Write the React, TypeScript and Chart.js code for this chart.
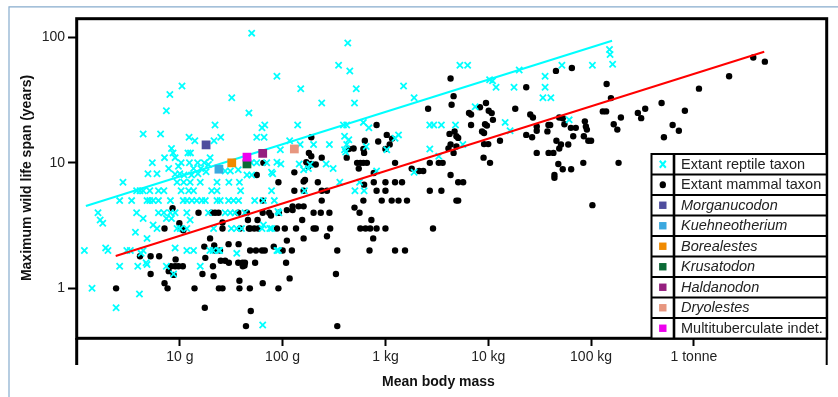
import React, { useEffect, useRef } from 'react';
import { Chart, registerables } from 'chart.js';

Chart.register(...registerables);

// ---- axis ticks ----
const xTickValues = [10, 100, 1000, 10000, 100000, 1000000];
const xTickLabels = ['10 g', '100 g', '1 kg', '10 kg', '100 kg', '1 tonne'];
const yTickValues = [1, 10, 100];
const yTickLabels = ['1', '10', '100'];
const xTitle = 'Mean body mass';
const yTitle = 'Maximum wild life span (years)';

// ---- extant reptiles: [mean body mass (g), maximum wild life span (years)] ----
const reptileData: [number, number][] = [
  [50, 108], [10.5, 41], [8, 35], [7.4, 26], [32, 33], [47, 25], [4.4, 17], [6.5, 17], [22, 20], [63, 19],
  [67, 20], [12.3, 16], [14, 15], [25, 16], [21.5, 15], [56, 16], [66, 16], [8.3, 13], [8.6, 12], [12, 12],
  [12.7, 12], [7.1, 11], [9, 11], [19.7, 11], [5.4, 10], [10.3, 10], [12.4, 10], [14.9, 10], [17.3, 10], [7.8, 9],
  [9.7, 9.4], [13.6, 9], [16, 9], [19, 9.7], [27.6, 8.6], [31, 8.6], [37, 8.8], [49.5, 10], [56, 10], [4.9, 8.2],
  [6, 8.2], [9, 8.1], [10, 8.2], [11, 8], [13, 8], [15, 8.2], [18, 8.5], [45, 8], [50, 8], [70, 10],
  [80, 8.2], [2.8, 7], [9.4, 7], [10.9, 7], [12.6, 7], [15.8, 7], [23, 7], [30, 7], [38, 7], [3.8, 6],
  [4.1, 6], [4.4, 6], [5.1, 6], [6.2, 6], [7, 6], [10.3, 6], [12.2, 6], [13.6, 6], [20.4, 6], [23, 6],
  [39, 6], [2.6, 5], [3.4, 5], [4.8, 5], [5.1, 5], [5.5, 5], [6.2, 5], [8.1, 5], [10.8, 5], [11.7, 5],
  [13.1, 5], [14.6, 5], [16.4, 5], [17.7, 5], [23, 5], [24.7, 5], [29.8, 5], [33.3, 5], [37.3, 5], [53.5, 5],
  [65, 5], [1.6, 4], [1.68, 3.5], [1.78, 3.3], [3.8, 4], [4.4, 3.6], [6.2, 4], [7, 4], [8.1, 4], [9, 4],
  [11.7, 4], [12.6, 3.5], [19, 4], [27.6, 4], [31, 4], [34.5, 4], [43, 4], [7.4, 3.6], [8.3, 3.6], [5.5, 3.2],
  [6, 3], [9.4, 3], [10.1, 3], [11.7, 3], [21.3, 3], [31.7, 3], [35.8, 3], [39.8, 3], [63, 3], [65, 3.2],
  [75, 3], [90, 4.1], [3.7, 2.8], [4.8, 2.5], [1.18, 2], [1.9, 2.1], [2.0, 2], [3.05, 2], [3.3, 2], [4.4, 2],
  [9, 2.1], [11.7, 2], [13.6, 2], [19.6, 2], [21, 2], [23.8, 2], [24.4, 2], [35.8, 1.9], [88, 2], [2.6, 1.5],
  [3.9, 1.5], [4.8, 1.55], [4.2, 1.9], [4.7, 1.6], [7.4, 1.5], [8.7, 1.3], [15.8, 1.5], [1.4, 1], [4.05, 0.9], [2.4, 0.7],
  [64, 0.51], [78, 6], [83, 5], [92, 4], [78, 3], [91, 2], [163, 6], [360, 7], [505, 6], [620, 6],
  [560, 7], [430, 90], [88, 49], [350, 60], [450, 54], [150, 39], [520, 39], [1500, 41], [240, 30], [500, 30],
  [1900, 33], [140, 20], [390, 20], [420, 20], [610, 21], [690, 19], [2700, 20], [2950, 20], [3500, 20], [4800, 20],
  [400, 16.3], [440, 15.3], [420, 14], [1340, 16.7], [1240, 15.7], [117, 15], [95, 12.7], [148, 14], [200, 14], [285, 14],
  [400, 12.7], [410, 12.2], [650, 13.5], [1030, 12.7], [2700, 12.9], [3300, 11.3], [88, 10.1], [96, 9.8], [145, 9.8], [185, 9.7],
  [265, 9.8], [310, 9], [78, 8.4], [160, 8.8], [178, 9], [820, 8.6], [1900, 8.4], [5300, 60], [6300, 60], [20000, 55],
  [10300, 46], [11000, 45], [11900, 40], [17800, 40], [35700, 49], [35700, 40], [34000, 33], [40600, 33], [52000, 60], [103000, 60],
  [151000, 80], [153000, 73], [162000, 61], [7460, 28], [14600, 21], [16300, 18], [61200, 22], [5660, 14],
];

// ---- extant mammals: [mean body mass (g), maximum wild life span (years)] ----
const mammalData: [number, number][] = [
  [65, 10], [56, 8], [8.5, 4.35], [15.2, 4], [20.4, 4], [22, 4], [23.8, 4], [37, 4], [45, 4], [7.1, 3],
  [9.9, 3.3], [10.4, 3], [10.8, 2.9], [26, 3.35], [26, 3], [38.6, 3], [48.3, 3], [58, 3], [46, 3.5], [57, 3.5],
  [19.7, 2.5], [17.3, 2.15], [21.6, 2.2], [22, 2], [24.6, 2], [29.8, 2.25], [37.3, 2.25], [17.7, 1.75], [25, 1.66], [27.6, 1.66],
  [40.7, 1.6], [42.6, 1.52], [48.3, 2], [55, 2], [63, 2], [4.1, 1.8], [5.2, 1.8], [6.3, 1.8], [9.1, 1.7], [5.2, 1.3],
  [8.2, 1.5], [9, 1.5], [9.7, 1.5], [10.7, 1.5], [7.8, 1.37], [8.7, 1.28], [21, 1.5], [21.3, 1.25], [16.6, 1.3], [30, 1.6],
  [7.1, 1.1], [7.6, 1.0], [2.4, 1], [13.9, 1], [24, 1], [26, 1], [38, 1], [48, 1], [64, 1.1], [17.5, 0.7],
  [49, 0.66], [44, 0.5], [37, 1.6], [43, 1.6], [41, 1.5], [54, 1.6], [38, 1.15], [47, 3], [53, 3], [64, 4],
  [64, 5], [67, 2], [74, 4], [92, 4], [105, 3],
  [4300, 47], [4600, 34], [4400, 29], [2600, 27], [820, 20], [190, 16], [1030, 16.7], [1160, 15.6], [1100, 14], [850, 14.8],
  [630, 15], [610, 12.9], [620, 12], [490, 13], [440, 12.9], [1000, 12.9], [180, 12], [190, 11.3], [240, 11], [170, 10.1],
  [190, 9.8], [178, 9.4], [210, 9.7], [420, 11], [530, 10], [570, 10], [610, 10], [660, 10], [550, 9], [1240, 10],
  [1800, 9], [2130, 8.6], [2330, 8.6], [2700, 10], [3300, 10], [3600, 10], [4100, 13], [4300, 14], [4600, 12], [4700, 17.8],
  [4200, 17], [130, 8.4], [770, 8.3], [4300, 8],
  [91, 7], [160, 7.1], [165, 7.3], [220, 7], [770, 7], [1000, 7], [1240, 7], [1450, 7], [620, 6.7], [130, 6],
  [160, 6], [240, 6], [270, 6], [820, 6], [1000, 6], [2700, 6], [3500, 6], [240, 5], [610, 5], [920, 5],
  [1150, 5], [1340, 5], [1620, 5], [4900, 5], [110, 4.2], [125, 4.5], [125, 4.2], [143, 4.5], [160, 4.5], [77, 3.8],
  [200, 4], [235, 4], [285, 4], [500, 4.4], [560, 4], [155, 3.5], [730, 3.5], [88, 3], [135, 3], [200, 3],
  [210, 3], [290, 3], [570, 3], [640, 3], [710, 3], [820, 3], [1000, 3], [2900, 3], [270, 2.6], [760, 2.5],
  [110, 2.4], [160, 2.5], [82, 2.15], [100, 2], [123, 2], [340, 2], [700, 2], [1240, 2], [1550, 2], [108, 1.6],
  [330, 1.3], [117, 1.2], [91, 1], [340, 0.5],
  [45500, 54], [65000, 57], [23400, 40], [141600, 42.5], [156000, 32.8], [9500, 30], [8300, 27.7], [10100, 26], [10800, 24.9], [11100, 22],
  [6500, 25], [6800, 24.3], [18300, 27], [6800, 20], [9300, 20.3], [9700, 19.8], [8700, 17.8], [9100, 17.3], [4900, 16.3], [5100, 15.8],
  [13000, 15], [25600, 24.3], [27200, 23], [29600, 19.5], [29600, 18], [23400, 16.7], [26700, 16], [38500, 20], [40000, 20], [37600, 17.8],
  [49000, 23], [53000, 22.7], [55000, 20.3], [63600, 19], [71000, 19], [67000, 16.3], [60000, 14], [87000, 21.4], [89000, 19.5], [91000, 18.4],
  [85000, 16.3], [94000, 15], [100000, 15], [130000, 25.7], [140000, 25.7], [166000, 20.3], [180000, 18.4], [195000, 23], [285000, 25], [307000, 22.7],
  [336000, 27], [4900, 13.5], [9100, 14.1], [10000, 14.1], [10400, 10], [9000, 11], [29600, 12], [38600, 12], [43000, 12], [46000, 15],
  [49000, 13], [51000, 14], [48000, 9.8], [53000, 8.9], [44000, 8], [64000, 8.9], [84000, 10], [185000, 10], [5100, 7], [5700, 7],
  [5100, 5], [103000, 4.6], [44000, 7.6], [3780000, 69], [4900000, 64], [2200000, 49], [1120000, 39], [485000, 30], [817000, 26], [621000, 20],
  [714000, 18], [511000, 16],
];

// ---- fossil taxa estimates ----
const fossilTaxa = ['Morganucodon', 'Kuehneotherium', 'Borealestes', 'Krusatodon', 'Haldanodon', 'Dryolestes', 'Multituberculate indet.'];
const fossilMass = [18, 24, 32, 45, 64, 130, 45];
const fossilLifespan = [13.9, 8.9, 10, 9.8, 11.9, 12.9, 11.1];
const fossilItalic = [true, true, true, true, true, true, false];
const fossilColors = ['#4f4d9e', '#3aa8df', '#f08a00', '#0b6a36', '#951f7f', '#e7967f', '#ee00ee'];

// ---- regression lines (end points) ----
const reptileFitMass = [1.22, 160000];
const reptileFitLifespan = [4.53, 94];
const mammalFitMass = [2.38, 4830000];
const mammalFitLifespan = [1.81, 76.8];

const legendLabels = ['Extant reptile taxon', 'Extant mammal taxon', ...fossilTaxa];

const FONT = '"Liberation Sans", Arial, Helvetica, sans-serif';
const CYAN = '#00ffff';

const decorPlugin = {
  id: 'decor',
  beforeDraw(chart: any) {
    const ctx = chart.ctx;
    ctx.save();
    ctx.fillStyle = '#ffffff';
    ctx.fillRect(0, 0, chart.width, chart.height);
    ctx.strokeStyle = 'rgb(135,172,205)';
    ctx.lineWidth = 1.2;
    ctx.beginPath();
    ctx.moveTo(9, chart.height);
    ctx.lineTo(9, 6.8);
    ctx.lineTo(chart.width, 6.8);
    ctx.stroke();
    ctx.restore();
  },
  afterDraw(chart: any) {
    const ctx = chart.ctx;
    const a = chart.chartArea;
    ctx.save();
    // plot frame
    ctx.strokeStyle = '#000';
    ctx.lineWidth = 3;
    ctx.strokeRect(a.left - 0.3, a.top + 0.7, a.right - a.left, a.bottom - a.top - 0.4);
    // axis extensions below frame
    ctx.beginPath();
    ctx.lineWidth = 3;
    ctx.moveTo(a.left - 0.3, a.bottom);
    ctx.lineTo(a.left - 0.3, 365);
    ctx.stroke();
    ctx.beginPath();
    ctx.lineWidth = 2;
    ctx.moveTo(a.right - 0.3, a.bottom);
    ctx.lineTo(a.right - 0.3, 365);
    ctx.stroke();

    // axis titles
    ctx.fillStyle = '#111';
    ctx.font = `bold 14px ${FONT}`;
    ctx.textAlign = 'center';
    ctx.textBaseline = 'middle';
    ctx.fillText(xTitle, 438.5, 382);
    ctx.save();
    ctx.translate(27.5, (a.top + a.bottom) / 2);
    ctx.rotate(-Math.PI / 2);
    ctx.fillText(yTitle, 0, 0);
    ctx.restore();

    // legend table
    const lx = 651.5;
    const lr = a.right - 0.3;
    const ly = 154;
    const rowH = 20.5;
    const divX = 674;
    const n = legendLabels.length;
    ctx.fillStyle = '#fff';
    ctx.fillRect(lx, ly, lr - lx, rowH * n);
    for (let i = 0; i < n; i++) {
      const cy = ly + rowH * (i + 0.5);
      const sx = 662.8;
      if (i === 0) {
        ctx.strokeStyle = CYAN;
        ctx.lineWidth = 2;
        ctx.beginPath();
        ctx.moveTo(sx - 3, cy - 3.5);
        ctx.lineTo(sx + 3, cy + 3.5);
        ctx.moveTo(sx + 3, cy - 3.5);
        ctx.lineTo(sx - 3, cy + 3.5);
        ctx.stroke();
      } else if (i === 1) {
        ctx.fillStyle = '#000';
        ctx.beginPath();
        ctx.ellipse(sx, cy, 3.2, 3.6, 0, 0, Math.PI * 2);
        ctx.fill();
      } else {
        ctx.fillStyle = fossilColors[i - 2];
        ctx.fillRect(sx - 3.7, cy - 3.7, 7.4, 7.4);
      }
      const italic = i >= 2 && fossilItalic[i - 2];
      ctx.fillStyle = '#222';
      ctx.font = `${italic ? 'italic ' : ''}14.5px ${FONT}`;
      ctx.textAlign = 'left';
      ctx.textBaseline = 'middle';
      ctx.fillText(legendLabels[i], 681, cy + 0.5);
    }
    ctx.strokeStyle = '#000';
    ctx.lineWidth = 2;
    ctx.strokeRect(lx, ly, lr - lx, rowH * n);
    ctx.beginPath();
    for (let i = 1; i < n; i++) {
      const y = ly + rowH * i;
      ctx.moveTo(lx, y);
      ctx.lineTo(lr, y);
    }
    ctx.stroke();
    ctx.beginPath();
    ctx.lineWidth = 2.6;
    ctx.moveTo(divX, ly);
    ctx.lineTo(divX, ly + rowH * n);
    ctx.stroke();
    ctx.restore();
  },
};

export default function App() {
  const canvasRef = useRef<HTMLCanvasElement | null>(null);

  useEffect(() => {
    const canvas = canvasRef.current;
    if (!canvas) return;
    const chart = new Chart(canvas, {
      type: 'scatter',
      data: {
        datasets: [
          {
            label: 'Fossil taxa',
            data: fossilMass.map((m, i) => ({ x: m, y: fossilLifespan[i] })),
            pointStyle: 'rect',
            pointRadius: 6.2,
            backgroundColor: fossilColors,
            borderColor: fossilColors,
            borderWidth: 0,
            order: 0,
          },
          {
            type: 'line',
            label: 'Reptile fit',
            data: reptileFitMass.map((m, i) => ({ x: m, y: reptileFitLifespan[i] })),
            borderColor: CYAN,
            borderWidth: 2,
            pointRadius: 0,
            fill: false,
            order: 1,
          },
          {
            type: 'line',
            label: 'Mammal fit',
            data: mammalFitMass.map((m, i) => ({ x: m, y: mammalFitLifespan[i] })),
            borderColor: '#ff0000',
            borderWidth: 2,
            pointRadius: 0,
            fill: false,
            order: 1,
          },
          {
            label: 'Extant reptile taxon',
            data: reptileData.map(([m, l]) => ({ x: m, y: l })),
            pointStyle: 'crossRot',
            pointRadius: 4.4,
            borderColor: CYAN,
            backgroundColor: CYAN,
            borderWidth: 1.8,
            order: 2,
          },
          {
            label: 'Extant mammal taxon',
            data: mammalData.map(([m, l]) => ({ x: m, y: l })),
            pointStyle: 'circle',
            pointRadius: 3.2,
            backgroundColor: '#000',
            borderColor: '#000',
            borderWidth: 0,
            order: 3,
          },
        ],
      } as any,
      options: {
        animation: false,
        responsive: false,
        devicePixelRatio: 1,
        events: [],
        layout: { padding: { left: 0, right: 11, top: 18, bottom: 0 } },
        plugins: { legend: { display: false }, tooltip: { enabled: false }, title: { display: false } },
        scales: {
          x: {
            type: 'logarithmic',
            min: 1,
            max: 1.97e7,
            afterFit: (s: any) => {
              s.height = 59;
            },
            afterBuildTicks: (s: any) => {
              s.ticks = xTickValues.map((v) => ({ value: v }));
            },
            ticks: {
              callback: (v: any) => {
                const i = xTickValues.indexOf(Number(v));
                return i >= 0 ? xTickLabels[i] : '';
              },
              font: { size: 14, family: FONT },
              color: '#222',
              padding: 3,
              maxRotation: 0,
              autoSkip: false,
            },
            grid: { display: true, drawOnChartArea: false, drawTicks: true, tickLength: 8, tickWidth: 2, tickColor: '#000' },
            border: { display: false },
          },
          y: {
            type: 'logarithmic',
            min: 0.402,
            max: 142.6,
            afterFit: (s: any) => {
              s.width = 77;
            },
            afterBuildTicks: (s: any) => {
              s.ticks = yTickValues.map((v) => ({ value: v }));
            },
            ticks: {
              callback: (v: any) => {
                const i = yTickValues.indexOf(Number(v));
                return i >= 0 ? yTickLabels[i] : '';
              },
              font: { size: 14, family: FONT },
              color: '#222',
              padding: 3,
              autoSkip: false,
            },
            grid: { display: true, drawOnChartArea: false, drawTicks: true, tickLength: 9, tickWidth: 2, tickColor: '#000' },
            border: { display: false },
          },
        },
      } as any,
      plugins: [decorPlugin],
    });
    return () => chart.destroy();
  }, []);

  return (
    <div style={{ position: 'fixed', left: 0, top: 0, width: 838, height: 397, background: '#fff' }}>
      <canvas ref={canvasRef} width={838} height={397} style={{ display: 'block', width: 838, height: 397 }} />
    </div>
  );
}
